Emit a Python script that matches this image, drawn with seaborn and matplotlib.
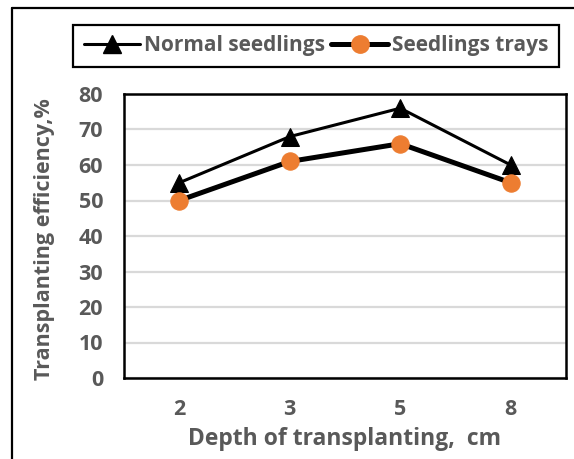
import pandas as pd
import matplotlib.pyplot as plt
import seaborn as sns
from matplotlib.lines import Line2D

depth = ['2', '3', '5', '8']
normal_seedlings = [55, 68, 76, 60]
seedlings_trays = [50, 61, 66, 55]

sns.set_style('white')
plt.rcParams['font.family'] = ['Open Sans', 'DejaVu Sans']

gray = '#595959'
orange = '#ED7D31'

W, H = 574, 459
fig = plt.figure(figsize=(W / 100, H / 100), dpi=100)
ax = fig.add_axes([124 / W, 1 - 378 / H, (566 - 124) / W, (378 - 94) / H])

df = pd.DataFrame({'depth': depth, 'normal': normal_seedlings, 'trays': seedlings_trays})

sns.lineplot(data=df, x='depth', y='normal', ax=ax, color='black', lw=2.2,
             marker='^', markersize=13, markeredgecolor='black', sort=False)
sns.lineplot(data=df, x='depth', y='trays', ax=ax, color='black', lw=3.6,
             marker='o', markersize=12.5, markerfacecolor=orange, markeredgecolor=orange,
             sort=False)

ax.set_xlim(-0.5, 3.5)
ax.set_ylim(0, 80)
ax.set_yticks(range(0, 81, 10))
ax.yaxis.grid(True, color='#d9d9d9', lw=1.6)
ax.set_axisbelow(True)
for s in ax.spines.values():
    s.set_color('black')
    s.set_linewidth(1.8)
ax.tick_params(axis='both', length=0, labelsize=15.5, labelcolor=gray)
ax.tick_params(axis='y', pad=15)
ax.tick_params(axis='x', pad=15)
for t in ax.get_xticklabels() + ax.get_yticklabels():
    t.set_fontweight('bold')
ax.set_xlabel('Depth of transplanting,  cm', fontsize=16.5, fontweight='bold',
              color=gray)
ax.xaxis.set_label_coords(0.5, -(427 - 378) / (378 - 94))
ax.set_ylabel('Transplanting efficiency,%', fontsize=15.5, fontweight='bold',
              color=gray)
ax.yaxis.set_label_coords(-(124 - 55) / (566 - 124), 0.49)

handles = [
    Line2D([], [], color='black', lw=2.2, marker='^', markersize=13),
    Line2D([], [], color='black', lw=3.6, marker='o', markersize=12.5,
           markerfacecolor=orange, markeredgecolor=orange),
]
leg = fig.legend(handles, ['Normal seedlings', 'Seedlings trays'], ncol=2,
                 loc='center', bbox_to_anchor=(316 / W, 1 - 46 / H),
                 fancybox=False, edgecolor='black', framealpha=1,
                 prop={'weight': 'bold', 'size': 15}, handlelength=2.7,
                 handletextpad=0.2, columnspacing=0.3, borderpad=0.5,
                 borderaxespad=0)
leg.get_frame().set_linewidth(1.6)
for t in leg.get_texts():
    t.set_color(gray)

# outer frame (left and top edges visible)
fig.add_artist(Line2D([12 / W, 12 / W], [0, 1 - 8 / H], color='black', lw=1.6))
fig.add_artist(Line2D([12 / W, 1], [1 - 8 / H, 1 - 8 / H], color='black', lw=1.6))

fig.savefig('out.png', dpi=100)
